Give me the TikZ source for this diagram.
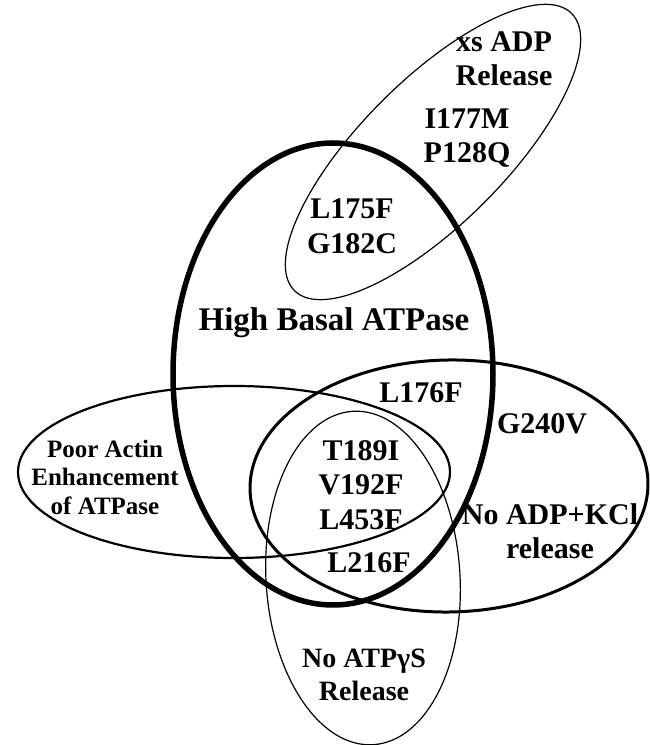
\documentclass[tikz,border=0pt]{standalone}
\usepackage{fontspec}
\setmainfont{Liberation Serif}
\begin{document}
\begin{tikzpicture}[x=1pt,y=1pt,
  lab/.style={font=\bfseries\fontsize{30}{34.5}\selectfont, align=center, inner sep=0pt},
  thinring/.style={line width=1.2pt},
  thickring/.style={line width=5.5pt},
  midring/.style={line width=2.2pt},
  kclring/.style={line width=3pt}]
\useasboundingbox (0,0) rectangle (650,745);
% ellipses
\draw[thickring] (333,371) ellipse [x radius=160pt, y radius=231pt];
\draw[thinring, rotate around={45:(433,593)}] (433,593) ellipse [x radius=196pt, y radius=72pt];
\draw[midring] (234,273) ellipse [x radius=216pt, y radius=86pt];
\draw[kclring, rotate around={1:(449,259)}] (449,259) ellipse [x radius=199pt, y radius=126pt];
\draw[thinring, rotate around={3.5:(363,167)}] (363,167) ellipse [x radius=97pt, y radius=167pt];
% labels
\node[lab] (xsadp) at (504,686) {xs ADP\\Release};
\node[lab] (i177) at (467,607) {I177M\\P128Q};
\node[lab] (l175) at (352,519) {L175F\\G182C};
\node[lab, font=\bfseries\fontsize{33}{38}\selectfont] (hba) at (334,422) {High Basal ATPase};
\node[lab] (l176) at (421,352) {L176F};
\node[lab] (g240) at (542,321) {G240V};
\node[lab] (t189) at (361,260) {T189I\\V192F\\L453F};
\node[lab] (l216) at (369,182) {L216F};
\node[lab] (kcl) at (550,214) {No ADP+KCl\\release};
\node[lab, font=\bfseries\fontsize{25}{28.5}\selectfont] (actin) at (105,268) {Poor Actin\\Enhancement\\of ATPase};
\node[lab, font=\bfseries\fontsize{28}{33}\selectfont] (atpgs) at (364,70) {No ATPγS\\Release};
\end{tikzpicture}
\end{document}
